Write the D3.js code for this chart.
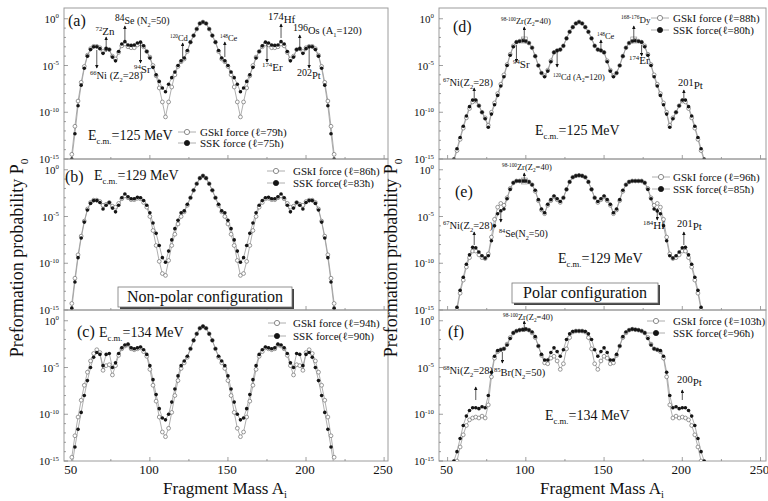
<!DOCTYPE html>
<html>
<meta charset="utf-8">
<style>
body { margin: 0; background: #fff; }
svg { font-family: "Liberation Serif", "DejaVu Serif", serif; }
</style>
<body>
<script src="https://d3js.org/d3.v7.min.js"></script>
<script>
// fragment mass numbers (x values, every second mass)
var massA = [48,50,52,54,56,58,60,62,64,66,68,70,72,74,76,78,80,82,84,86,88,90,92,94,96,98,100,102,104,106,108,110,112,114,116,118,120,122,124,126,128,130,132,134,
             136,138,140,142,144,146,148,150,152,154,156,158,160,162,164,166,168,170,172,174,176,178,180,182,184,186,188,190,192,194,196,198,200,202,204,206,208,210,212,214,216,218,220];

// log10 of preformation probability P0
// (a) non-polar, Ec.m.=125 MeV
var gskiA = [null,-14.5,-11.5,-8.8,-6.8,-5.1,-3.9,-3.2,-2.95,-2.95,-3.1,-3.5,-3.2,-3.3,-4.0,-4.3,-3.6,-2.9,-2.7,-3.0,-3.1,-3.1,-2.8,-2.7,-3.0,-3.5,-4.1,-5.0,-6.1,-7.4,-8.9,-10.5,-8.9,-7.3,-6.0,-5.1,-4.6,-4.3,-3.5,-2.5,-1.8,-1.1,-0.5,-0.35,
             -0.5,-1.1,-1.8,-2.5,-3.5,-4.3,-4.6,-5.1,-6.0,-7.3,-8.9,-10.5,-8.9,-7.4,-6.1,-5.0,-4.1,-3.5,-3.0,-2.7,-2.8,-3.1,-3.1,-3.0,-2.7,-2.9,-3.6,-4.3,-4.0,-3.3,-3.2,-3.5,-3.1,-2.95,-2.95,-3.2,-3.9,-5.1,-6.8,-8.8,-11.5,-14.5,null];
var sskA  = [null,-15.0,-12.3,-9.3,-7.1,-5.3,-4.0,-3.3,-3.0,-3.0,-3.2,-3.7,-3.2,-3.3,-4.1,-4.5,-3.5,-2.7,-2.45,-2.8,-2.85,-2.8,-2.6,-2.5,-2.9,-3.5,-4.2,-5.2,-6.0,-6.7,-7.4,-7.8,-7.0,-6.3,-5.7,-5.0,-4.5,-4.2,-3.4,-2.5,-1.8,-1.1,-0.5,-0.35,
             -0.5,-1.1,-1.8,-2.5,-3.4,-4.2,-4.5,-5.0,-5.7,-6.3,-7.0,-7.8,-7.4,-6.7,-6.0,-5.2,-4.2,-3.5,-2.9,-2.5,-2.6,-2.8,-2.85,-2.8,-2.45,-2.7,-3.5,-4.5,-4.1,-3.3,-3.2,-3.7,-3.2,-3.0,-3.0,-3.3,-4.0,-5.3,-7.1,-9.3,-12.3,-15.0,null];
// (b) non-polar, Ec.m.=129 MeV
var gskiB = [null,-14.3,-11.6,-9.1,-7.1,-5.5,-4.2,-3.5,-3.25,-3.25,-3.4,-3.8,-3.7,-3.5,-3.9,-4.0,-3.6,-3.1,-2.8,-3.0,-3.2,-3.2,-3.05,-3.1,-3.5,-4.0,-5.0,-6.5,-8.1,-9.8,-11.1,-11.3,-9.7,-8.1,-6.9,-5.8,-5.0,-4.5,-3.8,-3.0,-2.2,-1.5,-0.9,-0.65,
             -0.9,-1.5,-2.2,-3.0,-3.8,-4.5,-5.0,-5.8,-6.9,-8.1,-9.7,-11.3,-11.1,-9.8,-8.1,-6.5,-5.0,-4.0,-3.5,-3.1,-3.05,-3.2,-3.2,-3.0,-2.8,-3.1,-3.6,-4.0,-3.9,-3.5,-3.7,-3.8,-3.4,-3.25,-3.25,-3.5,-4.2,-5.5,-7.1,-9.1,-11.6,-14.3,null];
var sskB  = [null,-14.8,-12.0,-9.4,-7.3,-5.6,-4.3,-3.6,-3.3,-3.3,-3.5,-4.2,-3.8,-3.5,-4.1,-4.5,-3.8,-3.0,-2.6,-2.9,-3.1,-3.1,-2.95,-3.0,-3.3,-3.8,-4.6,-5.7,-6.8,-8.1,-9.4,-9.9,-8.7,-7.5,-6.3,-5.4,-4.6,-4.4,-3.7,-3.0,-2.2,-1.5,-0.9,-0.65,
             -0.9,-1.5,-2.2,-3.0,-3.7,-4.4,-4.6,-5.4,-6.3,-7.5,-8.7,-9.9,-9.4,-8.1,-6.8,-5.7,-4.6,-3.8,-3.3,-3.0,-2.95,-3.1,-3.1,-2.9,-2.6,-3.0,-3.8,-4.5,-4.1,-3.5,-3.8,-4.2,-3.5,-3.3,-3.3,-3.6,-4.3,-5.6,-7.3,-9.4,-12.0,-14.8,null];
// (c) non-polar, Ec.m.=134 MeV
var gskiC = [null,-14.6,-12.3,-10.3,-8.5,-6.9,-5.5,-4.3,-3.5,-3.1,-3.4,-5.3,-4.8,-4.7,-5.8,-4.8,-3.7,-3.0,-2.7,-2.6,-3.0,-3.1,-3.0,-2.9,-3.3,-3.8,-5.2,-6.9,-8.6,-10.3,-11.9,-12.4,-11.5,-9.8,-8.0,-6.4,-5.1,-4.5,-3.9,-3.0,-2.1,-1.4,-0.8,-0.6,
             -0.8,-1.4,-2.1,-3.0,-3.9,-4.5,-5.1,-6.4,-8.0,-9.8,-11.5,-12.4,-11.9,-10.3,-8.6,-6.9,-5.2,-3.8,-3.3,-2.9,-3.0,-3.1,-3.0,-2.6,-2.7,-3.0,-3.7,-4.8,-5.8,-4.7,-4.8,-5.3,-3.4,-3.1,-3.5,-4.3,-5.5,-6.9,-8.5,-10.3,-12.3,-14.6,null];
var sskC  = [null,-15.6,-13.5,-11.6,-9.8,-8.0,-6.4,-5.0,-3.9,-3.4,-3.6,-4.8,-3.6,-3.5,-5.0,-4.5,-3.5,-2.9,-2.6,-2.5,-2.9,-3.0,-2.9,-2.8,-3.1,-3.6,-4.8,-6.3,-7.9,-9.4,-10.4,-10.6,-10.0,-8.7,-7.3,-5.9,-4.8,-4.3,-3.8,-3.0,-2.1,-1.4,-0.8,-0.6,
             -0.8,-1.4,-2.1,-3.0,-3.8,-4.3,-4.8,-5.9,-7.3,-8.7,-10.0,-10.6,-10.4,-9.4,-7.9,-6.3,-4.8,-3.6,-3.1,-2.8,-2.9,-3.0,-2.9,-2.5,-2.6,-2.9,-3.5,-4.5,-5.0,-3.5,-3.6,-4.8,-3.6,-3.4,-3.9,-5.0,-6.4,-8.0,-9.8,-11.6,-13.5,-15.6,null];
// (d) polar, Ec.m.=125 MeV
var gskiD = [null,null,-16.2,-15.2,-14.1,-12.9,-11.7,-10.6,-9.6,-8.9,-8.8,-9.3,-10.0,-10.6,-11.4,-10.0,-9.0,-8.0,-7.0,-6.0,-4.9,-3.8,-2.9,-2.5,-2.4,-2.3,-2.4,-2.6,-3.1,-4.0,-5.0,-5.8,-6.1,-5.5,-4.5,-3.6,-3.4,-3.3,-2.9,-2.1,-1.4,-0.9,-0.5,-0.35,
             -0.5,-0.9,-1.4,-2.1,-2.9,-3.3,-3.4,-3.6,-4.5,-5.5,-6.1,-5.8,-5.0,-4.0,-3.1,-2.6,-2.4,-2.3,-2.4,-2.5,-2.9,-3.8,-4.9,-6.0,-7.0,-8.0,-9.0,-10.0,-11.4,-10.6,-10.0,-9.3,-8.8,-8.9,-9.6,-10.6,-11.7,-12.9,-14.1,-15.2,-16.2,null,null];
var sskD  = [null,null,-16.0,-15.0,-13.9,-12.7,-11.5,-10.4,-9.4,-8.7,-8.7,-9.3,-10.0,-10.7,-11.6,-10.2,-9.2,-8.2,-7.2,-6.2,-5.0,-3.9,-3.0,-2.5,-2.4,-2.35,-2.4,-2.6,-3.1,-4.0,-5.0,-5.8,-6.2,-5.6,-4.6,-3.6,-3.4,-3.3,-2.9,-2.1,-1.4,-0.9,-0.5,-0.35,
             -0.5,-0.9,-1.4,-2.1,-2.9,-3.3,-3.4,-3.6,-4.6,-5.6,-6.2,-5.8,-5.0,-4.0,-3.1,-2.6,-2.4,-2.35,-2.4,-2.5,-3.0,-3.9,-5.0,-6.2,-7.2,-8.2,-9.2,-10.2,-11.6,-10.7,-10.0,-9.3,-8.7,-8.7,-9.4,-10.4,-11.5,-12.7,-13.9,-15.0,-16.0,null,null];
// (e) polar, Ec.m.=129 MeV
var gskiE = [null,null,null,-16.3,-15.0,-13.2,-11.8,-10.4,-9.4,-8.7,-8.7,-9.1,-9.4,-9.5,-9.0,-7.2,-5.3,-4.0,-3.6,-3.8,-3.0,-2.0,-1.4,-1.2,-1.2,-1.2,-1.2,-1.3,-1.6,-2.3,-3.3,-4.3,-4.7,-3.8,-3.3,-2.9,-3.2,-3.5,-3.0,-2.1,-1.3,-0.8,-0.65,-0.6,
             -0.65,-0.8,-1.3,-2.1,-3.0,-3.5,-3.2,-2.9,-3.3,-3.8,-4.7,-4.3,-3.3,-2.3,-1.6,-1.3,-1.2,-1.2,-1.2,-1.2,-1.4,-2.0,-3.0,-3.8,-3.6,-4.0,-5.3,-7.2,-9.0,-9.5,-9.4,-9.1,-8.7,-8.7,-9.4,-10.4,-11.8,-13.2,-15.0,-16.3,null,null,null];
var sskE  = [null,null,null,-16.0,-14.7,-12.9,-11.5,-10.1,-9.1,-8.3,-8.35,-8.8,-9.2,-9.45,-9.2,-7.6,-6.0,-4.7,-4.4,-4.2,-3.1,-2.1,-1.4,-1.2,-1.2,-1.2,-1.2,-1.3,-1.6,-2.2,-3.2,-4.2,-4.6,-3.7,-3.2,-2.8,-3.1,-3.4,-3.0,-2.1,-1.3,-0.8,-0.65,-0.6,
             -0.65,-0.8,-1.3,-2.1,-3.0,-3.4,-3.1,-2.8,-3.2,-3.7,-4.6,-4.2,-3.2,-2.2,-1.6,-1.3,-1.2,-1.2,-1.2,-1.2,-1.4,-2.1,-3.1,-4.2,-4.4,-4.7,-6.0,-7.6,-9.2,-9.45,-9.2,-8.8,-8.35,-8.3,-9.1,-10.1,-11.5,-12.9,-14.7,-16.0,null,null,null];
// (f) polar, Ec.m.=134 MeV
var gskiF = [null,null,null,-16.2,-15.0,-13.5,-12.2,-11.2,-10.6,-10.4,-10.3,-10.4,-10.2,-10.4,-9.0,-6.0,-4.0,-3.3,-3.1,-3.0,-2.5,-1.8,-1.3,-1.1,-1.0,-0.95,-0.9,-1.0,-1.3,-1.8,-2.7,-3.7,-4.5,-4.6,-4.0,-3.8,-4.3,-5.2,-4.6,-3.0,-1.8,-1.2,-1.1,-1.1,
             -1.1,-1.2,-1.8,-3.0,-4.6,-5.2,-4.3,-3.8,-4.0,-4.6,-4.5,-3.7,-2.7,-1.8,-1.3,-1.0,-0.9,-0.95,-1.0,-1.1,-1.3,-1.8,-2.5,-3.0,-3.1,-3.3,-4.0,-6.0,-9.0,-10.4,-10.2,-10.4,-10.3,-10.4,-10.6,-11.2,-12.2,-13.5,-15.0,-16.2,null,null,null];
var sskF  = [null,null,-16.2,-15.0,-14.0,-12.6,-11.2,-10.2,-9.6,-9.3,-9.3,-9.4,-9.2,-9.3,-8.0,-5.5,-3.8,-3.2,-3.1,-3.0,-2.6,-1.9,-1.3,-1.1,-1.0,-0.95,-0.9,-1.0,-1.2,-1.7,-2.7,-3.6,-4.2,-4.2,-3.4,-2.9,-3.3,-3.8,-3.1,-2.0,-1.4,-1.15,-1.1,-1.1,
             -1.1,-1.15,-1.4,-2.0,-3.1,-3.8,-3.3,-2.9,-3.4,-4.2,-4.2,-3.6,-2.7,-1.7,-1.2,-1.0,-0.9,-0.95,-1.0,-1.1,-1.3,-1.9,-2.6,-3.0,-3.1,-3.2,-3.8,-5.5,-8.0,-9.3,-9.2,-9.4,-9.3,-9.3,-9.6,-10.2,-11.2,-12.6,-14.0,-15.0,-16.2,null,null];

var xTicks = [50, 100, 150, 200, 250];
var yTickExp = [0, -5, -10, -15];

var width = 768, height = 501;
var svg = d3.select("body").append("svg").attr("width", width).attr("height", height);

var cols = [
  {x0: 64, x1: 388, dom: [45, 252.5]},
  {x0: 439, x1: 766, dom: [44.5, 253.5]}
];
var rowTops = [8, 159, 310], rowH = 151, logTop = 1.15;
var lineCol = "#9a9a9a", openCol = "#6e6e6e", fillCol = "#151515";

// small parser: ^{..} superscript, _{..} subscript, #{..} raised number
function rich(sel, str, size) {
  var re = /([\^_#])\{([^}]*)\}|([^\^_#]+)/g, m, prev = 0;
  while ((m = re.exec(str))) {
    var k = m[1] || "", txt = m[2] !== undefined ? m[2] : m[3];
    var off = 0, fs = size;
    if (k === "^") { off = -0.4 * size; fs = 0.62 * size; }
    if (k === "_") { off = 0.25 * size; fs = 0.62 * size; }
    if (k === "#") { off = -0.3 * size; fs = 0.95 * size; }
    sel.append("tspan").attr("dy", off - prev).style("font-size", fs + "px").text(txt);
    prev = off;
  }
  return sel;
}

function label(str, x, y, size, anchor) {
  var t = svg.append("text").attr("x", x).attr("y", y)
    .attr("text-anchor", anchor || "start").style("font-size", size + "px").attr("fill", "#111");
  return rich(t, str, size);
}

var panels = [
  {c: 0, r: 0, g: gskiA, s: sskA, tag: ["(a)", 68, 26], E: ["E_{c.m.}=125 MeV", 88, 140],
   leg: [178, 200, 132, 143, "79", "SSK force (ℓ=75ħ)"],
   ann: [
     [72, 52, 37, "^{72}Zn", 105, 35, 11, "middle"],
     [84, 40, 26, "#{84}Se (N_{2}=50)", 115, 24, 10],
     [66, 50, 68, "^{66}Ni (Z_{2}=28)", 90, 79, 10.5],
     [94, 43, 63, "^{94}Sr", 134, 73, 11],
     [121, 58, 43, "^{120}Cd", 170, 41, 8.5],
     [148, 57, 42, "^{148}Ce", 220, 41, 8.5],
     [175, 42, 62, "^{174}Er", 262, 71, 11],
     [184, 38, 24, "#{174}Hf", 268, 23, 11],
     [196, 47, 35, "#{196}Os (A_{1}=120)", 293, 34, 10.5],
     [202, 48, 68, "#{202}Pt", 297, 79, 10.5]
   ]},
  {c: 0, r: 1, g: gskiB, s: sskB, tag: ["(b)", 65, 182], E: ["E_{c.m.}=129 MeV", 94, 180],
   leg: [267, 293, 171, 183, "86", "SSK force(ℓ=83ħ)"],
   box: ["Non-polar configuration", 118, 287, 174, 20], ann: []},
  {c: 0, r: 2, g: gskiC, s: sskC, tag: ["(c)", 77, 337], E: ["E_{c.m.}=134 MeV", 99, 337],
   leg: [268, 293, 323, 336, "94", "SSK force(ℓ=90ħ)"], ann: []},
  {c: 1, r: 0, g: gskiD, s: sskD, tag: ["(d)", 453, 32], E: ["E_{c.m.}=125 MeV", 535, 135],
   leg: [651, 673, 18, 30, "88", "SSK force(ℓ=80ħ)"],
   sq: [[99, 40], [169, 40]],
   ann: [
     [99, 42, 27, "^{98-100}Zr(Z_{2}=40)", 501, 24, 8.5],
     [94, 45, 62, "^{94}Sr", 513, 68, 11],
     [67, 100, 88, "^{67}Ni(Z_{2}=28)", 443, 86, 10.5],
     [120, 52, 67, "^{120}Cd (A_{2}=120)", 553, 80, 8.5],
     [148, 52, 40, "^{148}Ce", 597, 39, 8.5],
     [169, 42, 26, "^{168-176}Dy", 621, 23, 9],
     [174, 45, 56, "^{174}Er", 629, 64, 11],
     [201, 100, 90, "#{201}Pt", 678, 89, 11]
   ]},
  {c: 1, r: 1, g: gskiE, s: sskE, tag: ["(e)", 455, 197], E: ["E_{c.m.}=129 MeV", 558, 263],
   leg: [652, 673, 177, 189, "96", "SSK force(ℓ=85ħ)"],
   box: ["Polar configuration", 512, 283, 146, 20],
   sq: [[99, 181]],
   ann: [
     [99, 183, 173, "^{98-100}Zr(Z_{2}=40)", 502, 170, 8.5],
     [67, 245, 232, "^{67}Ni(Z_{2}=28)", 443, 229, 10.5],
     [84, 213, 222, "^{84}Se(N_{2}=50)", 499, 237, 10],
     [184, 208, 220, "^{184}Hf", 643, 229, 11],
     [201, 245, 232, "#{201}Pt", 677, 230, 11]
   ]},
  {c: 1, r: 2, g: gskiF, s: sskF, tag: ["(f)", 448, 337], E: ["E_{c.m.}=134 MeV", 545, 420],
   leg: [647, 673, 321, 333, "103", "SSK force(ℓ=96ħ)"],
   ann: [
     [99, 332, 321, "^{98-100}Zr(Z_{2}=40)", 503, 320, 8.5],
     [68, 400, 387, "^{68}Ni(Z_{2}=28)", 443, 374, 10.5],
     [85, 352, 363, "^{85}Br(N_{2}=50)", 494, 376, 10.5],
     [200, 400, 390, "#{200}Pt", 677, 386, 11]
   ]}
];

var defs = svg.append("defs");
defs.append("marker").attr("id", "head").attr("viewBox", "0 0 6 6").attr("refX", 5).attr("refY", 3)
  .attr("markerWidth", 5).attr("markerHeight", 5).attr("orient", "auto")
  .append("path").attr("d", "M0,0L6,3L0,6Z").attr("fill", "#111");

panels.forEach(function(p, i) {
  var col = cols[p.c], top = rowTops[p.r];
  var x = d3.scaleLinear().domain(col.dom).range([col.x0, col.x1]);
  var y = d3.scaleLog().domain([1e-15, Math.pow(10, logTop)]).range([top + rowH, top]);

  // frame
  svg.append("rect").attr("x", col.x0).attr("y", top).attr("width", col.x1 - col.x0).attr("height", rowH)
    .attr("fill", "none").attr("stroke", "#9c9c9c").attr("stroke-width", 1);

  // x ticks (inside, bottom)
  d3.range(50, 251, 25).forEach(function(v) {
    var len = v % 50 === 0 ? 4 : 2;
    svg.append("line").attr("x1", x(v)).attr("x2", x(v)).attr("y1", top + rowH).attr("y2", top + rowH - len)
      .attr("stroke", "#777").attr("stroke-width", 0.7);
  });
  // y ticks and labels
  d3.range(0, -16, -1).forEach(function(e) {
    var len = e % 5 === 0 ? 4 : 2;
    svg.append("line").attr("x1", col.x0).attr("x2", col.x0 + len).attr("y1", y(Math.pow(10, e))).attr("y2", y(Math.pow(10, e)))
      .attr("stroke", "#777").attr("stroke-width", 0.7);
  });
  yTickExp.forEach(function(e) {
    label("10^{" + e + "}", col.x0 - 5, y(Math.pow(10, e)) + 4, 11, "end");
  });
  if (p.r === 2) {
    xTicks.forEach(function(v) { label(String(v), x(v) - 1, top + rowH + 13, 13, "middle"); });
  }

  // data
  var clipId = "clip" + i;
  defs.append("clipPath").attr("id", clipId).append("rect")
    .attr("x", col.x0).attr("y", top).attr("width", col.x1 - col.x0).attr("height", rowH);
  var g = svg.append("g").attr("clip-path", "url(#" + clipId + ")");

  function pts(arr) {
    return massA.map(function(a, k) { return {a: a, v: arr[k]}; })
      .filter(function(d) { return d.v !== null; });
  }
  var line = d3.line().x(function(d) { return x(d.a); }).y(function(d) { return y(Math.pow(10, d.v)); });
  var gs = pts(p.g), ss = pts(p.s);

  g.append("path").attr("d", line(gs)).attr("fill", "none").attr("stroke", lineCol).attr("stroke-width", 0.8);
  g.append("path").attr("d", line(ss)).attr("fill", "none").attr("stroke", lineCol).attr("stroke-width", 0.8);
  g.selectAll(".go").data(gs).enter().append("circle")
    .attr("cx", function(d) { return x(d.a); }).attr("cy", function(d) { return y(Math.pow(10, d.v)); })
    .attr("r", 1.9).attr("fill", "#fff").attr("stroke", openCol).attr("stroke-width", 0.7);
  g.selectAll(".so").data(ss).enter().append("circle")
    .attr("cx", function(d) { return x(d.a); }).attr("cy", function(d) { return y(Math.pow(10, d.v)); })
    .attr("r", 1.8).attr("fill", fillCol);

  // small squares at the Zr / Dy plateaus
  (p.sq || []).forEach(function(s) {
    svg.append("rect").attr("x", x(s[0]) - 3).attr("y", s[1] - 3).attr("width", 6).attr("height", 6)
      .attr("fill", "none").attr("stroke", "#888").attr("stroke-width", 0.6);
  });

  // annotations: arrow from curve to label
  p.ann.forEach(function(a) {
    svg.append("line").attr("x1", x(a[0])).attr("x2", x(a[0])).attr("y1", a[1]).attr("y2", a[2])
      .attr("stroke", "#111").attr("stroke-width", 0.7).attr("marker-end", "url(#head)");
    label(a[3], a[4], a[5], a[6], a[7]);
  });

  // panel tag and energy
  label(p.tag[0], p.tag[1], p.tag[2], 16);
  label(p.E[0], p.E[1], p.E[2], 14);

  // legend
  var L = p.leg;
  [[L[2], "GSkI force (ℓ=" + L[4] + "ħ)", true], [L[3], L[5], false]].forEach(function(r) {
    svg.append("line").attr("x1", L[0]).attr("x2", L[0] + 18).attr("y1", r[0]).attr("y2", r[0])
      .attr("stroke", lineCol).attr("stroke-width", 0.8);
    svg.append("circle").attr("cx", L[0] + 9).attr("cy", r[0]).attr("r", 2.6)
      .attr("fill", r[2] ? "#fff" : fillCol).attr("stroke", r[2] ? openCol : fillCol).attr("stroke-width", 0.8);
    label(r[1], L[1], r[0] + 4, 11);
  });

  // configuration box
  if (p.box) {
    var b = p.box;
    svg.append("rect").attr("x", b[1] + 2).attr("y", b[2] + 2).attr("width", b[3]).attr("height", b[4]).attr("fill", "#444");
    svg.append("rect").attr("x", b[1]).attr("y", b[2]).attr("width", b[3]).attr("height", b[4])
      .attr("fill", "#fff").attr("stroke", "#777").attr("stroke-width", 0.8);
    label(b[0], b[1] + b[3] / 2, b[2] + 15, 16, "middle");
  }
});

// axis titles
label("Fragment Mass A_{i}", 225, 494, 17, "middle");
label("Fragment Mass A_{i}", 602, 494, 17, "middle");
[23, 397].forEach(function(xp) {
  var t = svg.append("text").attr("transform", "translate(" + xp + ",258) rotate(-90)")
    .attr("text-anchor", "middle").style("font-size", "18px").attr("fill", "#111");
  rich(t, "Preformation probability P_{0}", 18);
});
</script>
</body>
</html>
